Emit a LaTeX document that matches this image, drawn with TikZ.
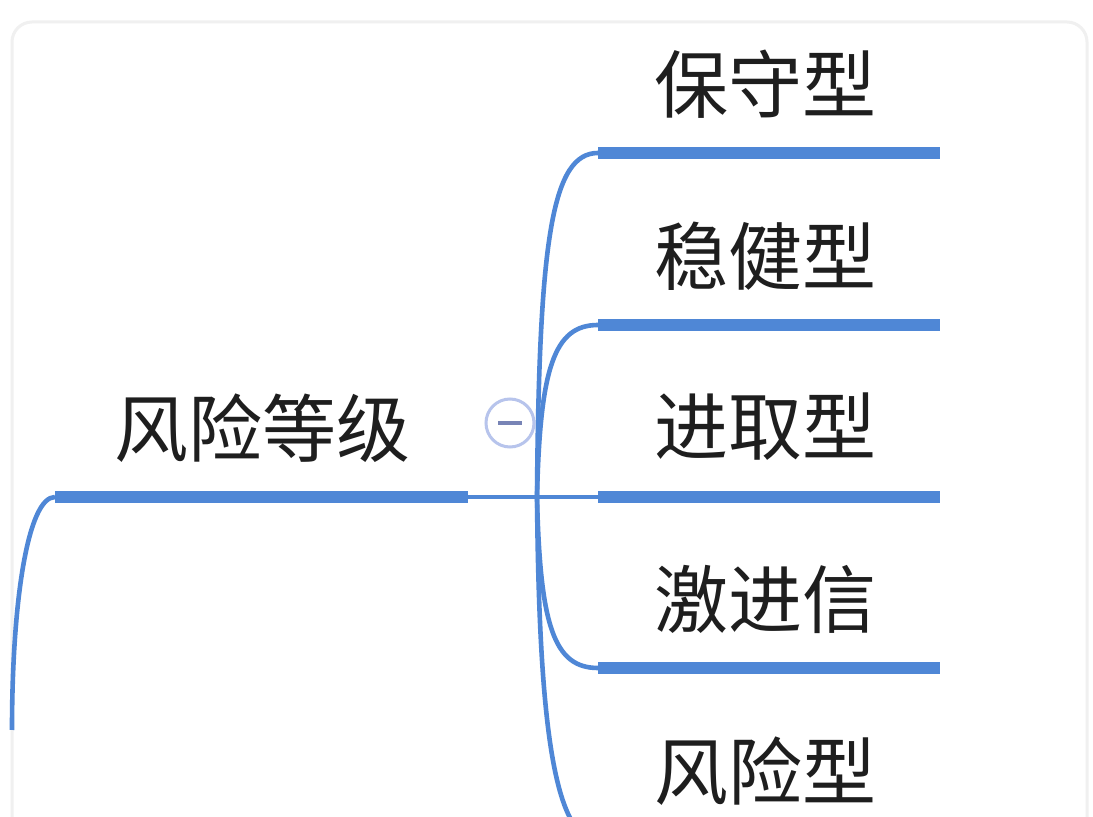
\documentclass[tikz,border=0pt]{standalone}
\usepackage{fontspec}
\newfontfamily\cjk{Noto Sans CJK SC}
\usetikzlibrary{calc}
\definecolor{cLine}{HTML}{4F87D6}
\definecolor{cInk}{HTML}{1E1E1E}
\definecolor{cRing}{HTML}{B7C4EC}
\definecolor{cMinus}{HTML}{7884B6}
\definecolor{cFrame}{HTML}{F0F0F0}
\tikzset{
  topic/.style  = {font=\cjk\fontsize{37}{40}\selectfont, text=cInk, inner sep=0pt},
  bar/.style    = {draw=cLine, line width=6pt},
  branch/.style = {draw=cLine, line width=2.3pt},
  fold/.style   = {circle, draw=cRing, line width=1.5pt, fill=white,
                   minimum size=24pt, inner sep=0pt},
}

\begin{document}
\begin{tikzpicture}[x=0.5pt, y=-0.5pt]
  \useasboundingbox (0,0) rectangle (1093,817);
  \clip (0,0) rectangle (1093,817);
  \fill[white] (0,0) rectangle (1093,817);
  \draw[cFrame, line width=1.5pt, rounded corners=10pt] (12,22) rectangle (1087,860);
  % root topic
  \node[topic] (root) at (262,428) {风险等级};
  \coordinate (rootl) at (55,497);
  \coordinate (rootr) at (468,497);
  \coordinate (up) at (12,730);
  \coordinate (hub) at (537,497);
  % child topics
  \node[topic] (bs) at (765,84)  {保守型};
  \node[topic] (wj) at (765,256) {稳健型};
  \node[topic] (jq) at (765,427) {进取型};
  \node[topic] (jj) at (765,599) {激进信};
  \node[topic] (fx) at (765,771) {风险型};
  \coordinate (bsl) at (598,153);  \coordinate (bsr) at (940,153);
  \coordinate (wjl) at (598,325);  \coordinate (wjr) at (940,325);
  \coordinate (jql) at (598,497);  \coordinate (jqr) at (940,497);
  \coordinate (jjl) at (598,668);  \coordinate (jjr) at (940,668);
  \coordinate (fxl) at (598,840);  \coordinate (fxr) at (940,840);
  % underlines
  \draw[bar] (rootl) -- (rootr);
  \draw[bar] (bsl) -- (bsr);
  \draw[bar] (wjl) -- (wjr);
  \draw[bar] (jql) -- (jqr);
  \draw[bar] (jjl) -- (jjr);
  \draw[bar] (fxl) -- (fxr);
  % branches
  \draw[branch] (up) .. controls (12,600) and (28,497) .. (rootl);
  \draw[branch] (rootr) -- (hub) -- (jql);
  \draw[branch] (hub) .. controls (539,239) and (552,153) .. (bsl);
  \draw[branch] (hub) .. controls (540,368) and (554,325) .. (wjl);
  \draw[branch] (hub) .. controls (540,626) and (554,668) .. (jjl);
  \draw[branch] (hub) .. controls (539,711) and (552,840) .. (fxl);
  % collapse button
  \node[fold] (fold) at (510,423) {\textcolor{cMinus}{\rule[-1pt]{12pt}{2pt}}};
\end{tikzpicture}
\end{document}
